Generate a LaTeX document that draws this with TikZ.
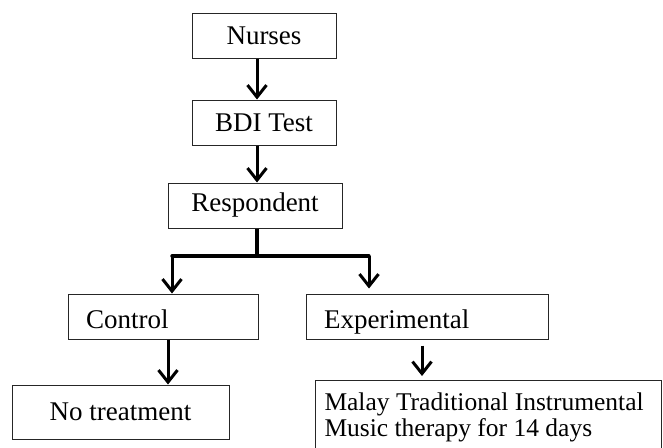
\documentclass[tikz,border=0pt]{standalone}
\usepackage{fontspec}
\setmainfont{Liberation Serif}
\usetikzlibrary{arrows.meta}

\begin{document}
\begin{tikzpicture}[x=1pt,y=-1pt,
  box/.style={draw=black!85,line width=1pt,minimum height=45pt,inner sep=0pt,
    font=\fontsize{27}{31}\selectfont},
  groupbox/.style={box,inner xsep=18pt,align=flush left,text height=24pt,text depth=1pt},
  flow/.style={line width=3pt,-{Straight Barb[length=12pt,width=19pt]}},
  bar/.style={line width=3.4pt}
]
\clip (0,0) rectangle (663,447);

% Main column
\node[box,minimum width=144pt] (nurses) at (264,36) {Nurses};
\node[box,minimum width=144pt] (bdi) at (264,122.5) {BDI Test};
\node[box,minimum width=174pt] (resp) at (255,205.5) {Respondent};

% Split points
\coordinate (split) at (257,256);
\coordinate (lsplit) at (172,256);
\coordinate (rsplit) at (369,256);

% Groups
\node[groupbox,text width=154pt] (control) at (163,316.5) {Control};
\node[groupbox,text width=206pt] (exper) at (427,316.5) {Experimental};

% Outcomes
\node[box,minimum width=217pt,minimum height=54pt] (none) at (120.5,412) {No treatment};
\node[box,anchor=north west,text width=328pt,inner xsep=9pt,inner ysep=12pt,align=flush left,
  font=\fontsize{25.5}{26}\selectfont] (music) at (315,380)
  {Malay Traditional Instrumental\\Music therapy for 14 days};

% Arrows
\draw[flow] (nurses.south -| split) -- (bdi.north -| split);
\draw[flow] (bdi.south -| split) -- (resp.north -| split);
\draw[bar] (resp.south -| split) -- (split);
\draw[bar,line cap=round] (lsplit) -- (rsplit);
\draw[flow] (lsplit) -- (lsplit |- control.north);
\draw[flow,shorten >=5pt] (rsplit) -- (rsplit |- exper.north);

\coordinate (cdrop) at ([xshift=5pt]control.south);
\coordinate (edrop) at ([xshift=-5pt]exper.south);
\draw[flow] (cdrop) -- (cdrop |- none.north);
\draw[flow,shorten <=6pt,shorten >=4pt] (edrop) -- (edrop |- music.north);

\end{tikzpicture}
\end{document}
